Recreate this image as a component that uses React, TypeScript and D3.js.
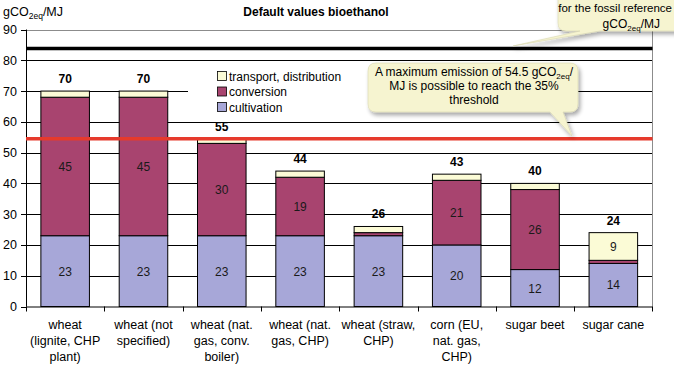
import React from "react";
import * as d3 from "d3";

const categories = [
  "wheat (lignite, CHP plant)",
  "wheat (not specified)",
  "wheat (nat. gas, conv. boiler)",
  "wheat (nat. gas, CHP)",
  "wheat (straw, CHP)",
  "corn (EU, nat. gas, CHP)",
  "sugar beet",
  "sugar cane",
];
const categoryLines = [
  ["wheat", "(lignite, CHP", "plant)"],
  ["wheat (not", "specified)"],
  ["wheat (nat.", "gas, conv.", "boiler)"],
  ["wheat (nat.", "gas, CHP)"],
  ["wheat (straw,", "CHP)"],
  ["corn (EU,", "nat. gas,", "CHP)"],
  ["sugar beet"],
  ["sugar cane"],
];
const cultivation = [23, 23, 23, 23, 23, 20, 12, 14];
const conversion = [45, 45, 30, 19, 1, 21, 26, 1];
const transport = [2, 2, 1.5, 2, 2, 2, 2, 9];
const totalLabels = ["70", "70", "55", "44", "26", "43", "40", "24"];
const cultivationLabels = ["23", "23", "23", "23", "23", "20", "12", "14"];
const conversionLabels = ["45", "45", "30", "19", "", "21", "26", ""];
const transportLabels = ["", "", "", "", "", "", "", "9"];
const yTicks = [0, 10, 20, 30, 40, 50, 60, 70, 80, 90];
const fossilReference = 83.8;
const threshold = 54.5;
const seriesNames = ["transport, distribution", "conversion", "cultivation"];

const COLORS = {
  cultivation: "#a7a7d8",
  conversion: "#a8446f",
  transport: "#fbfbd6",
};
const FONT = "Arial, 'Liberation Sans', sans-serif";

export default function App() {
  const W = 674, H = 367;
  const left = 26, right = 652.5, top = 29.5, bottom = 306.5;
  const y = d3.scaleLinear().domain([0, 90]).range([bottom, top]);
  const x = d3.scaleBand<string>().domain(categories).range([left, right]).paddingInner(0.38).paddingOuter(0.19);
  const bw = x.bandwidth();
  const step = x.step();

  const stacks = categories.map((c, i) => {
    const segs = [
      { key: "cultivation", v0: 0, v1: cultivation[i], label: cultivationLabels[i] },
      { key: "conversion", v0: cultivation[i], v1: cultivation[i] + conversion[i], label: conversionLabels[i] },
      { key: "transport", v0: cultivation[i] + conversion[i], v1: cultivation[i] + conversion[i] + transport[i], label: transportLabels[i] },
    ];
    return { c, i, segs, total: segs[2].v1 };
  });

  const calloutFill = "#f6f4d0";

  return (
    <svg width={W} height={H} style={{ display: "block", position: "absolute", left: 0, top: 0 }} fontFamily={FONT}>
      <defs>
        <filter id="sh" x="-20%" y="-20%" width="140%" height="160%">
          <feGaussianBlur in="SourceAlpha" stdDeviation="2" />
          <feOffset dx="2" dy="3" result="o" />
          <feComponentTransfer><feFuncA type="linear" slope="0.35" /></feComponentTransfer>
          <feMerge><feMergeNode /><feMergeNode in="SourceGraphic" /></feMerge>
        </filter>
      </defs>
      <rect width={W} height={H} fill="#fff" />
      {/* y-axis title */}
      <text x={3} y={16} fontSize={12.5} fill="#000">
        gCO<tspan fontSize={8.5} dy={3}>2eq</tspan><tspan dy={-3}>/MJ</tspan>
      </text>
      {/* chart title */}
      <text x={316} y={16} fontSize={12} fontWeight="bold" textAnchor="middle">Default values bioethanol</text>

      {/* gridlines */}
      {yTicks.filter(t => t > 0 && t < 90).map(t => (
        <line key={t} x1={left} x2={right} y1={Math.round(y(t)) + 0.5} y2={Math.round(y(t)) + 0.5} stroke="#000" strokeWidth={1} />
      ))}
      <line x1={left} x2={right} y1={Math.round(top) + 0.5} y2={Math.round(top) + 0.5} stroke="#8c8c8c" />
      <line x1={right} x2={right} y1={top} y2={bottom} stroke="#8c8c8c" />

      {/* bars */}
      {stacks.map(s => (
        <g key={s.c}>
          {s.segs.map(seg => (
            <rect key={seg.key} x={x(s.c)!} width={bw} y={y(seg.v1)} height={y(seg.v0) - y(seg.v1)}
              fill={(COLORS as any)[seg.key]} stroke="#000" strokeWidth={1} />
          ))}
          {s.segs.map(seg => seg.label ? (
            <text key={seg.key + "l"} x={x(s.c)! + bw / 2} y={(y(seg.v0) + y(seg.v1)) / 2 + 4.5}
              fontSize={12} textAnchor="middle" fill="#1a1a1a">{seg.label}</text>
          ) : null)}
          <text x={x(s.c)! + bw / 2} y={y(s.total) - 8} fontSize={12} fontWeight="bold" textAnchor="middle">{totalLabels[s.i]}</text>
        </g>
      ))}

      {/* axes */}
      <line x1={left + 0.5} x2={left + 0.5} y1={top} y2={bottom} stroke="#000" />
      <line x1={left} x2={right} y1={bottom + 0.5} y2={bottom + 0.5} stroke="#000" />
      {yTicks.map(t => (
        <g key={"yt" + t}>
          <line x1={left - 5} x2={left} y1={Math.round(y(t)) + 0.5} y2={Math.round(y(t)) + 0.5} stroke="#000" />
          <text x={17} y={y(t) + 4.5} fontSize={12.5} textAnchor="end">{t}</text>
        </g>
      ))}
      {categories.map((c, i) => (
        <line key={"xt" + i} x1={Math.round(left + i * step) + 0.5} x2={Math.round(left + i * step) + 0.5} y1={bottom} y2={bottom + 5} stroke="#000" />
      ))}
      <line x1={right} x2={right} y1={bottom} y2={bottom + 5} stroke="#000" />
      {categories.map((c, i) => (
        <text key={"xl" + i} x={x(c)! + bw / 2} y={329} fontSize={12.5} textAnchor="middle">
          {categoryLines[i].map((ln, k) => (
            <tspan key={k} x={x(c)! + bw / 2} dy={k === 0 ? 0 : 16}>{ln}</tspan>
          ))}
        </text>
      ))}

      {/* reference lines */}
      <line x1={left} x2={right} y1={y(fossilReference)} y2={y(fossilReference)} stroke="#000" strokeWidth={3.5} />
      <line x1={left} x2={right} y1={y(threshold)} y2={y(threshold)} stroke="#e63a2c" strokeWidth={3.5} />

      {/* legend */}
      <rect x={188} y={63} width={180} height={54} fill="#fff" />
      {seriesNames.map((n, i) => {
        const key = ["transport", "conversion", "cultivation"][i];
        const cy = 76 + i * 15.5;
        return (
          <g key={n}>
            <rect x={217.5} y={cy - 4.5} width={9} height={9} fill={(COLORS as any)[key]} stroke="#000" strokeWidth={0.8} />
            <text x={229} y={cy + 4.5} fontSize={12}>{n}</text>
          </g>
        );
      })}

      {/* threshold callout */}
      <g filter="url(#sh)">
        <path d="M376,63 H570 Q578,63 578,71 V104 Q578,112 570,112 H563 L572,136 L550,112 H376 Q368,112 368,104 V71 Q368,63 376,63 Z"
          fill={calloutFill} stroke="#d8d6b0" strokeWidth={0.6} />
      </g>
      <text x={474} y={76} fontSize={12} textAnchor="middle">
        A maximum emission of 54.5 gCO<tspan fontSize={8} dy={3}>2eq</tspan><tspan dy={-3}>/</tspan>
      </text>
      <text x={474} y={90} fontSize={12} textAnchor="middle">MJ is possible to reach the 35%</text>
      <text x={474} y={104} fontSize={12} textAnchor="middle">threshold</text>

      {/* fossil callout */}
      <g filter="url(#sh)">
        <path d="M566,-20 H700 V31 H600 L513,46 L580,31 H566 Q558,31 558,23 V-12 Q558,-20 566,-20 Z"
          fill={calloutFill} stroke="#d8d6b0" strokeWidth={0.6} />
      </g>
      <text x={672} y={12} fontSize={11.5} textAnchor="end">for the fossil reference</text>
      <text x={660} y={28} fontSize={12} textAnchor="end">
        gCO<tspan fontSize={8} dy={3}>2eq</tspan><tspan dy={-3}>/MJ</tspan>
      </text>
    </svg>
  );
}
